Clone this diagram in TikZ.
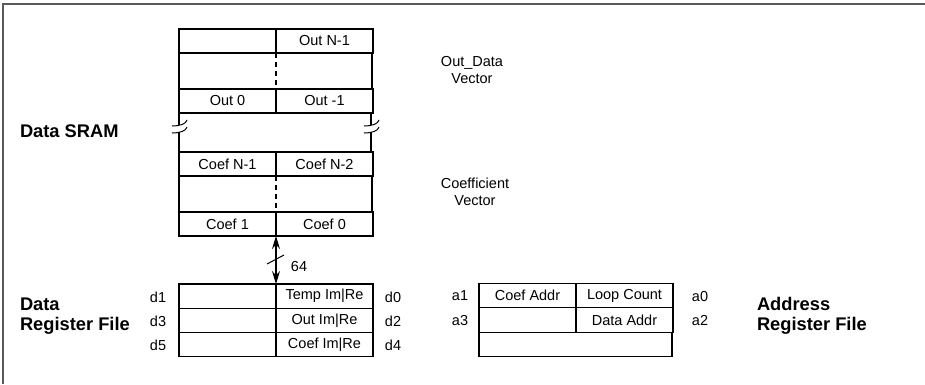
\documentclass[tikz,border=0pt]{standalone}
\usepackage{fontspec}
\setmainfont{Liberation Sans}
\usetikzlibrary{arrows.meta}
\begin{document}
\begin{tikzpicture}[x=1pt,y=-1pt,
  every node/.style={inner sep=0pt, outer sep=0pt, font=\fontsize{14.5}{16}\selectfont},
  cell/.style={draw, line width=1.1pt, minimum width=97pt, minimum height=24pt, anchor=north west},
  wide/.style={draw, line width=1.1pt, minimum width=193pt, anchor=north west},
  lbl/.style={font=\fontsize{14.5}{17.5}\selectfont},
  title/.style={font=\fontsize{18.3}{20}\selectfont\bfseries, align=left, anchor=west},
  brk/.style={line width=1pt},
  frame/.style={draw=black!65, line width=1.6pt},
  bus/.style={line width=1.2pt, {Stealth[length=13pt,width=8pt]}-{Stealth[length=13pt,width=8pt]}}
]
\useasboundingbox (0,0) rectangle (925,384);
% outer frame (top and left edges)
\draw[frame] (925,4) -- (3,4) -- (3,384);

% ---- Data SRAM ----
\node[cell] (r1a) at (179,29) {};
\node[cell] (r1b) at (276,29) {Out N-1};
\node[wide, minimum height=36pt] (r2) at (179,53) {};
\draw[dashed, line width=1.1pt, dash pattern=on 5pt off 4pt] (276,53) -- (276,89);
\node[cell] (r3a) at (179,89) {Out 0};
\node[cell] (r3b) at (276,89) {Out -1};
% break section sides
\draw[line width=1.1pt] (179,113) -- (179,124.5);
\draw[line width=1.1pt] (179,131.5) -- (179,152);
\draw[line width=1.1pt] (371,113) -- (371,124.5);
\draw[line width=1.1pt] (371,131.5) -- (371,152);
\draw[brk] (172,126) .. controls (180,126) and (186,124) .. (187,120);
\draw[brk] (172,133) .. controls (180,133) and (186,131) .. (187,127);
\draw[brk] (364,126) .. controls (372,126) and (378,124) .. (379,120);
\draw[brk] (364,133) .. controls (372,133) and (378,131) .. (379,127);
\node[cell] (r4a) at (179,152) {Coef N-1};
\node[cell] (r4b) at (276,152) {Coef N-2};
\node[wide, minimum height=36pt] (r5) at (179,176) {};
\draw[dashed, line width=1.1pt, dash pattern=on 5pt off 4pt] (276,176) -- (276,212);
\node[cell] (r6a) at (179,212) {Coef 1};
\node[cell] (r6b) at (276,212) {Coef 0};

\node[lbl, align=center] (outvec) at (472,70) {Out\_Data\\Vector};
\node[lbl, align=center] (coefvec) at (475,192) {Coefficient\\Vector};
\node[title] (sram) at (20,131) {Data SRAM};

% ---- bus ----
\coordinate (busTop) at (276,236);
\coordinate (busBot) at (276,284);
\draw[bus] (busTop) -- (busBot);
\draw[line width=1pt] (267,264) -- (284,255);
\node[lbl] (w64) at (299,266) {64};

% ---- Data register file ----
\node[cell, minimum height=24.3pt] (d1c) at (179,284) {};
\node[cell, minimum height=24.3pt] (d0c) at (276,284) {Temp Im|Re};
\node[cell, minimum height=24.3pt] (d3c) at (179,308.3) {};
\node[cell, minimum height=24.3pt] (d2c) at (276,308.3) {Out Im|Re};
\node[cell, minimum height=24.3pt] (d5c) at (179,332.6) {};
\node[cell, minimum height=24.3pt] (d4c) at (276,332.6) {Coef Im|Re};
\node[lbl] (d1) at (158,297) {d1};
\node[lbl] (d3) at (158,321) {d3};
\node[lbl] (d5) at (158,345) {d5};
\node[lbl] (d0) at (393,297) {d0};
\node[lbl] (d2) at (393,321) {d2};
\node[lbl] (d4) at (393,345) {d4};
\node[title] (drf) at (20,316) {Data\\Register File};

% ---- Address register file ----
\node[cell, minimum height=24.3pt] (a1c) at (479,283.5) {Coef Addr};
\node[cell, minimum height=24.3pt] (a0c) at (576,283.5) {Loop Count};
\node[cell, minimum height=24.3pt] (a3c) at (479,307.8) {};
\node[cell, minimum height=24.3pt] (a2c) at (576,307.8) {Data Addr};
\node[wide, minimum height=24.3pt] (a4c) at (479,332.1) {};
\node[lbl] (a1) at (460,296) {a1};
\node[lbl] (a3) at (460,320) {a3};
\node[lbl] (a0) at (700,296) {a0};
\node[lbl] (a2) at (700,320) {a2};
\node[title] (arf) at (757,316) {Address\\Register File};
\end{tikzpicture}
\end{document}
